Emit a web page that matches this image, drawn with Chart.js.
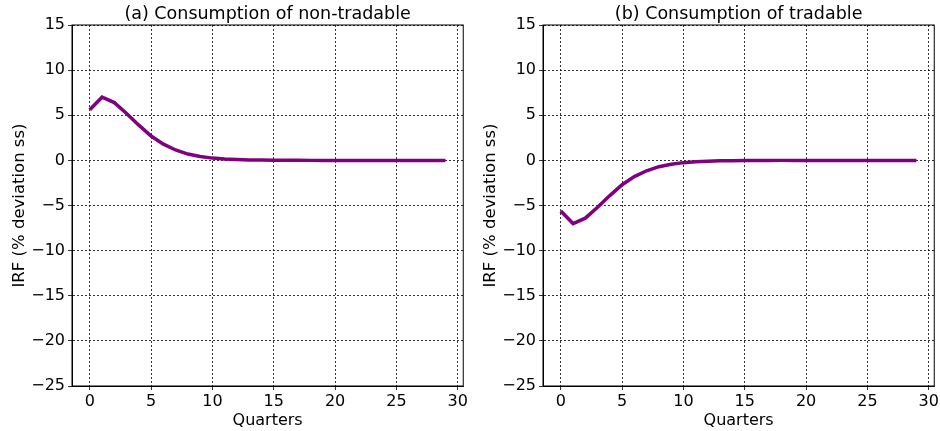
<!DOCTYPE html>
<html lang="en">
<head>
  <meta charset="UTF-8">
  <title>IRF consumption</title>
  <script src="https://cdn.jsdelivr.net/npm/chart.js"></script>
  <style>
    body { margin: 0; background: #fff; }
    .wrap { position: relative; width: 940px; height: 431px; }
    .box { position: absolute; top: 0; width: 470px; height: 431px; }
  </style>
</head>
<body>
  <div class="wrap">
    <div class="box" style="left:0"><canvas id="nonTradable"></canvas></div>
    <div class="box" style="left:471px"><canvas id="tradable"></canvas></div>
  </div>

  <script>
    const quarters = Array.from({ length: 30 }, (_, i) => i);
    const nonTradable = [5.6, 7.0, 6.4, 5.2, 3.9, 2.7, 1.8, 1.15, 0.7, 0.42, 0.25, 0.15, 0.09, 0.05, 0.03,
      0.02, 0.01, 0.01, 0, 0, 0, 0, 0, 0, 0, 0, 0, 0, 0, 0];
    const tradable = [-5.6, -7.0, -6.4, -5.2, -3.9, -2.7, -1.8, -1.15, -0.7, -0.42, -0.25, -0.15, -0.09, -0.05, -0.03,
      -0.02, -0.01, -0.01, 0, 0, 0, 0, 0, 0, 0, 0, 0, 0, 0, 0];
    const xTicks = [0, 5, 10, 15, 20, 25, 30];
    const yTicks = [-25, -20, -15, -10, -5, 0, 5, 10, 15];

    Chart.defaults.font.family = "'DejaVu Sans', sans-serif";
    Chart.defaults.color = '#000';

    // matplotlib-style box round the plot area
    const frame = {
      id: 'frame',
      afterDraw(chart) {
        const a = chart.chartArea, ctx = chart.ctx;
        ctx.save();
        ctx.strokeStyle = '#000';
        ctx.lineWidth = 1;
        ctx.strokeRect(a.left, a.top, a.right - a.left, a.bottom - a.top);
        ctx.restore();
      }
    };

    function makeChart(id, title, values) {
      new Chart(document.getElementById(id), {
        type: 'line',
        data: {
          datasets: [{
            data: quarters.map((q, i) => ({ x: q, y: values[i] })),
            borderColor: '#800080',
            borderWidth: 3.5,
            pointRadius: 0,
            tension: 0,
            fill: false
          }]
        },
        plugins: [frame],
        options: {
          responsive: false,
          animation: false,
          layout: { padding: { right: 6, top: 0, left: 0, bottom: 0 } },
          plugins: {
            legend: { display: false },
            tooltip: { enabled: false },
            title: {
              display: true,
              text: title,
              fullSize: false,
              font: { size: 17.5, weight: 'normal' },
              padding: { top: 4, bottom: 0 }
            }
          },
          scales: {
            x: {
              type: 'linear',
              min: -1.45,
              max: 30.45,
              afterBuildTicks: s => { s.ticks = xTicks.map(v => ({ value: v })); },
              afterFit: s => { s.height = 45; },
              ticks: { font: { size: 16 }, padding: 2, maxRotation: 0 },
              grid: { color: '#000', lineWidth: 0.8, tickLength: 4, tickBorderDash: [] },
              border: { display: true, color: '#000', dash: [2, 2] },
              title: { display: true, text: 'Quarters', font: { size: 16 }, padding: { top: 0, bottom: 1 } }
            },
            y: {
              min: -25,
              max: 15,
              afterBuildTicks: s => { s.ticks = yTicks.map(v => ({ value: v })); },
              afterFit: s => { s.width = 72; },
              ticks: {
                font: { size: 16 },
                padding: 3,
                callback: v => v < 0 ? '\u2212' + Math.abs(v) : String(v)
              },
              grid: { color: '#000', lineWidth: 0.8, tickLength: 4, tickBorderDash: [] },
              border: { display: true, color: '#000', dash: [2, 2] },
              title: { display: true, text: 'IRF (% deviation ss)', font: { size: 16.5 }, padding: { top: 10, bottom: 0 } }
            }
          }
        }
      });
    }

    for (const id of ['nonTradable', 'tradable']) {
      document.getElementById(id).width = 470;
      document.getElementById(id).height = 431;
    }

    makeChart('nonTradable', '(a) Consumption of non-tradable', nonTradable);
    makeChart('tradable', '(b) Consumption of tradable', tradable);
  </script>
</body>
</html>
